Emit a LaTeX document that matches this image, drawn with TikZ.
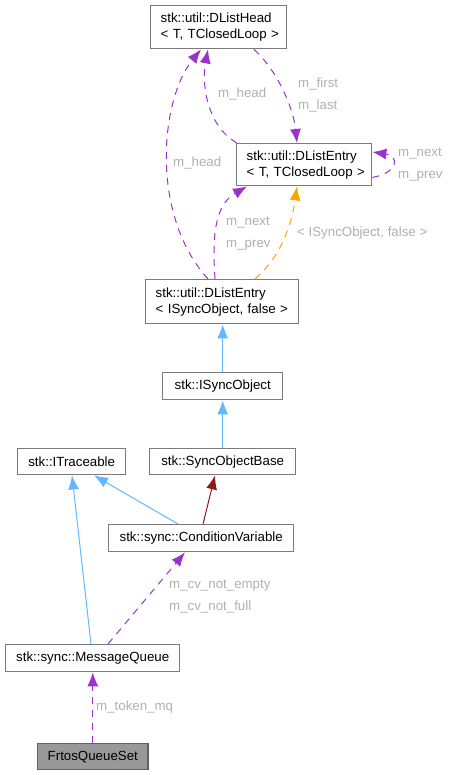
\documentclass[tikz,border=0pt]{standalone}
\usepackage{fontspec}
\setmainfont{Liberation Sans}
\usetikzlibrary{arrows.meta}
\definecolor{edgepurple}{HTML}{9A32CD}
\definecolor{edgeblue}{HTML}{63B8FF}
\definecolor{edgeorange}{HTML}{FFA500}
\definecolor{edgered}{HTML}{8B1A1A}
\definecolor{boxborder}{HTML}{7A7A7A}
\definecolor{labelgray}{HTML}{B0B0B0}
\definecolor{curfill}{HTML}{999999}
\tikzset{
  box/.style={draw=boxborder, line width=1.4pt, fill=white, anchor=north west, inner xsep=10pt, inner ysep=0pt,
    font=\fontsize{13.3}{16}\selectfont, text=black},
  twoline/.style={align=left},
  oneline/.style={align=center},
  elabel/.style={inner sep=0pt, anchor=west, text=labelgray, align=left, font=\fontsize{13.3}{22}\selectfont},
  tip/.style={-{Latex[length=14pt,width=11pt]}},
  usage/.style={tip, draw=edgepurple, line width=1pt, dash pattern=on 7pt off 6pt},
  tmpl/.style={tip, draw=edgeorange, line width=1pt, dash pattern=on 7pt off 6pt},
  inherit/.style={tip, draw=edgeblue, line width=1pt},
  privinh/.style={tip, draw=edgered, line width=1pt},
}
\begin{document}
\begin{tikzpicture}[x=1pt,y=-1pt]
\useasboundingbox (0,0) rectangle (451,775);
% nodes
\node[box, twoline, minimum width=136pt, minimum height=43pt, text width=116pt] (head) at (150,5)
  {\mbox{stk::util::DListHead}\\\mbox{\textless{} T, TClosedLoop \textgreater}};
\node[box, twoline, minimum width=135pt, minimum height=42pt, text width=115pt] (entryT) at (236,143)
  {\mbox{stk::util::DListEntry}\\\mbox{\textless{} T, TClosedLoop \textgreater}};
\node[box, twoline, minimum width=153pt, minimum height=44pt, text width=133pt] (entryI) at (145,279)
  {\mbox{stk::util::DListEntry}\\\mbox{\textless{} ISyncObject, false \textgreater}};
\node[box, oneline, minimum width=120pt, minimum height=27pt] (isync) at (162,372) {stk::ISyncObject};
\node[box, oneline, minimum width=146pt, minimum height=26pt] (sob) at (149,448) {stk::SyncObjectBase};
\node[box, oneline, minimum width=108pt, minimum height=26pt] (itr) at (17,448) {stk::ITraceable};
\node[box, oneline, minimum width=185pt, minimum height=27pt] (cv) at (108,524) {stk::sync::ConditionVariable};
\node[box, oneline, minimum width=174pt, minimum height=27pt] (mq) at (5,644) {stk::sync::MessageQueue};
\node[box, oneline, fill=curfill, draw=boxborder!80!black, minimum width=110pt, minimum height=26pt] (fqs) at (37,743) {FrtosQueueSet};

% DListEntry<T> -> DListHead (m_head)
\draw[usage] ([xshift=1pt]entryT.north west) .. controls (205,125) and (202,80) .. ([xshift=58pt]head.south west);
\node[elabel] (lA) at (218,94) {m\_head};
% DListEntry<ISync> -> DListHead (m_head)
\draw[usage] ([xshift=63pt]entryI.north west) .. controls (150,215) and (160,100) .. ([xshift=51pt]head.south west);
\node[elabel] (lB) at (173,163) {m\_head};
% DListHead -> DListEntry<T> (m_first, m_last)
\draw[usage] ([xshift=104pt]head.south west) .. controls (275,68) and (293,105) .. ([xshift=61pt]entryT.north west);
\node[elabel] (lC) at (298,95) {m\_first\\m\_last};
% self loop DListEntry<T>
\draw[usage] ([yshift=9pt]entryT.south east) .. controls (398,173) and (400,156) .. ([yshift=-9pt]entryT.north east);
\node[elabel] (lD) at (398,165) {m\_next\\m\_prev};
% DListEntry<ISync> -> DListEntry<T> (m_next, m_prev)
\draw[usage] ([xshift=70pt]entryI.north west) .. controls (212,235) and (215,205) .. ([xshift=11pt]entryT.south west);
\node[elabel] (lE) at (226,234) {m\_next\\m\_prev};
% template instance
\draw[tmpl] ([xshift=110pt]entryI.north west) .. controls (275,262) and (290,235) .. ([xshift=61pt]entryT.south west);
\node[elabel] (lF) at (297,233) {\textless{} ISyncObject, false \textgreater};

% inheritance
\draw[inherit] (isync.north) -- (isync.north |- entryI.south);
\draw[inherit] (sob.north) -- (sob.north |- isync.south);
\draw[inherit] ([xshift=70pt]cv.north west) -- ([xshift=77pt]itr.south west);
\draw[privinh] ([xshift=95pt]cv.north west) -- ([xshift=66pt]sob.south west);
\draw[inherit] ([xshift=86pt]mq.north west) -- ([xshift=55pt]itr.south west);

% MessageQueue -> ConditionVariable
\draw[usage] ([xshift=103pt]mq.north west) -- ([xshift=77pt]cv.south west);
\node[elabel] (lL) at (169,597) {m\_cv\_not\_empty\\m\_cv\_not\_full};
% FrtosQueueSet -> MessageQueue
\draw[usage] (fqs.north) -- (fqs.north |- mq.south);
\node[elabel] (lM) at (96,707) {m\_token\_mq};
\end{tikzpicture}
\end{document}
